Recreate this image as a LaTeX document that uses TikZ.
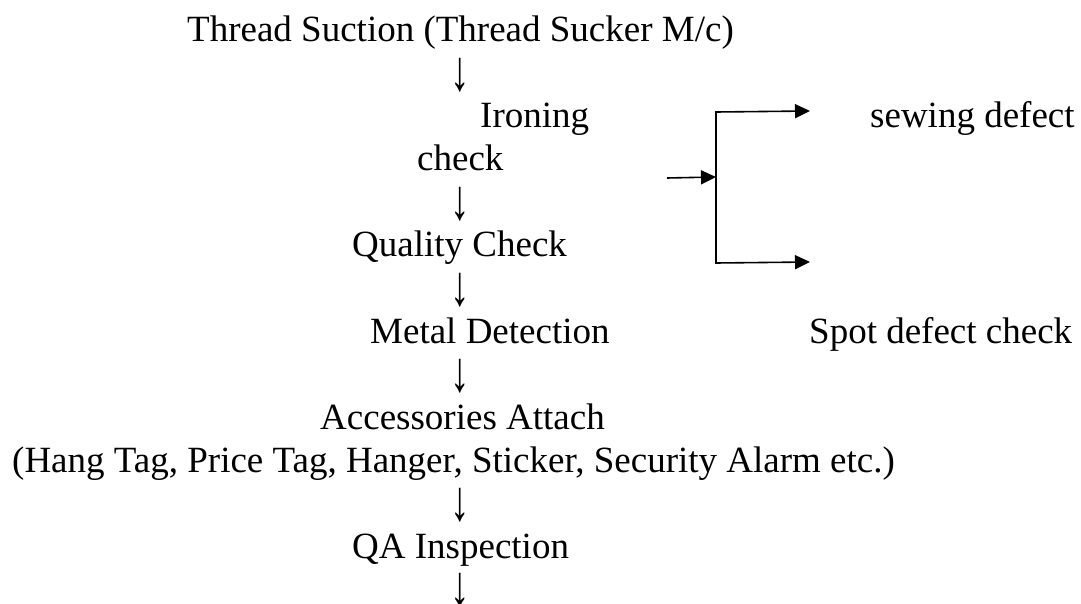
\documentclass[tikz,border=0pt]{standalone}
\usepackage{fontspec}
\setmainfont{Liberation Serif}
\usetikzlibrary{arrows.meta}
\newcommand{\dnarrow}{\scalebox{1.05}[1.55]{↓}}
\tikzset{
  txt/.style={anchor=base west, inner sep=0pt, font=\fontsize{37bp}{43bp}\selectfont},
  down/.style={anchor=center, inner sep=0pt, font=\fontsize{37bp}{43bp}\selectfont},
  conn/.style={line width=1.6bp, -{Triangle[length=15bp,width=14bp]}},
  split/.style={line width=1.6bp, {Triangle[length=15bp,width=14bp]}-{Triangle[length=15bp,width=14bp]}},
}
\begin{document}
\begin{tikzpicture}[x=1bp, y=-1bp]
\useasboundingbox (0,0) rectangle (1081,604);
% main flow
\node[txt] (suction) at (187,42) {Thread Suction (Thread Sucker M/c)};
\node[down] (d1) at (460,75.5) {\dnarrow};
\node[txt] (ironing) at (480,128) {Ironing};
\node[txt] (check) at (417,171) {check};
\node[down] (d2) at (460,204.5) {\dnarrow};
\node[txt] (quality) at (352,257) {Quality Check};
\node[down] (d3) at (460,290.5) {\dnarrow};
\node[txt] (metal) at (370,343) {Metal Detection};
\node[down] (d4) at (460,376.5) {\dnarrow};
\node[txt] (access) at (320,429) {Accessories Attach};
\node[txt] (items) at (12,472) {(Hang Tag, Price Tag, Hanger, Sticker, Security Alarm etc.)};
\node[down] (d5) at (460,505.5) {\dnarrow};
\node[txt] (qa) at (352,558) {QA Inspection};
\node[down] (d6) at (460,590.5) {\dnarrow};
% side branch
\node[txt] (sewing) at (870,128) {sewing defect};
\node[txt] (spot) at (809,343) {Spot defect check};
\coordinate (src) at (667,178);
\coordinate (junc) at (716,177);
\coordinate (vtop) at (716,112);
\coordinate (vbot) at (716,263);
\coordinate (ttip) at (810,111);
\coordinate (btip) at (810,262);
\draw[conn] (src) -- (junc);
\draw[split] (ttip) -- (vtop) -- (vbot) -- (btip);
\end{tikzpicture}
\end{document}
